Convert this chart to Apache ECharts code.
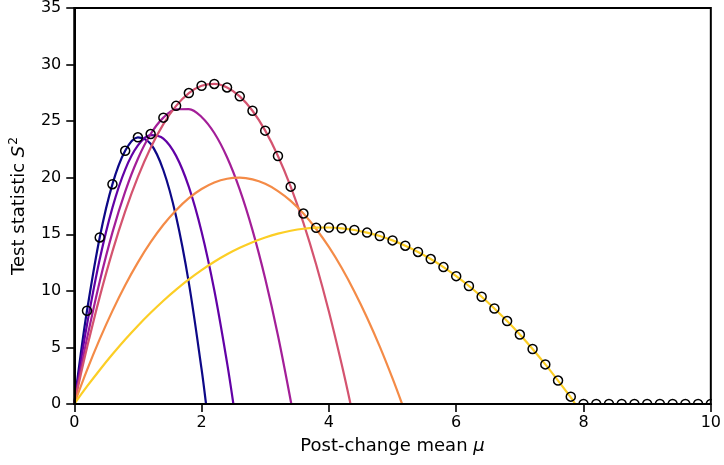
<!DOCTYPE html>
<html>
<head>
<meta charset="utf-8">
<script src="https://cdn.jsdelivr.net/npm/echarts@6/dist/echarts.min.js"></script>
<style>
html,body{margin:0;padding:0;background:#fff;}
#chart{width:724px;height:465px;}
</style>
</head>
<body>
<div id="chart"></div>
<script>
// ---- data ----
const xTicks = [0, 2, 4, 6, 8, 10];
const yTicks = [0, 5, 10, 15, 20, 25, 30, 35];

const curveNavy = [[0,0],[0.1,4.34],[0.2,8.24],[0.4,14.72],[0.6,19.43],[0.8,22.38],[1.0,23.57],[1.2,23.0],[1.4,20.66],[1.6,16.57],[1.8,10.71],[2.0,3.08],[2.07,0]];
const curvePurple = [[0,0],[0.1,3.66],[0.2,7.01],[0.4,12.79],[0.6,17.36],[0.8,20.72],[1.0,22.85],[1.2,23.76],[1.4,23.46],[1.6,21.93],[1.8,19.19],[2.0,15.23],[2.2,10.05],[2.4,3.66],[2.5,0]];
const curveMagenta = [[0,0],[0.1,2.98],[0.2,5.78],[0.4,10.83],[0.6,15.17],[0.8,18.78],[1.0,21.68],[1.2,23.86],[1.4,25.31],[1.6,26.05],[1.8,26.07],[2.0,25.37],[2.2,23.95],[2.4,21.81],[2.6,18.95],[2.8,15.37],[3.0,11.07],[3.2,6.05],[3.41,0]];
const curvePink = [[0,0],[0.1,2.55],[0.2,4.98],[0.4,9.47],[0.6,13.49],[0.8,17.02],[1.0,20.07],[1.2,22.65],[1.4,24.74],[1.6,26.35],[1.8,27.48],[2.0,28.13],[2.2,28.29],[2.4,27.98],[2.6,27.19],[2.8,25.92],[3.0,24.16],[3.2,21.92],[3.4,19.21],[3.6,16.01],[3.8,12.33],[4.0,8.17],[4.2,3.53],[4.34,0]];
const curveOrange = [[0,0],[0.2,2.99],[0.4,5.73],[0.6,8.23],[0.8,10.50],[1.0,12.52],[1.2,14.30],[1.4,15.84],[1.6,17.13],[1.8,18.19],[2.0,19.00],[2.2,19.58],[2.4,19.91],[2.6,20.00],[2.8,19.85],[3.0,19.46],[3.2,18.82],[3.4,17.95],[3.6,16.83],[3.8,15.47],[4.0,13.88],[4.2,12.04],[4.4,9.95],[4.6,7.63],[4.8,5.07],[5.0,2.26],[5.15,0]];
const curveYellow = [[0,0],[0.2,1.55],[0.4,3.01],[0.6,4.39],[0.8,5.70],[1.0,6.92],[1.2,8.06],[1.4,9.13],[1.6,10.11],[1.8,11.01],[2.0,11.83],[2.2,12.57],[2.4,13.23],[2.6,13.80],[2.8,14.30],[3.0,14.72],[3.2,15.06],[3.4,15.31],[3.6,15.49],[3.8,15.58],[4.0,15.60],[4.2,15.53],[4.4,15.38],[4.6,15.15],[4.8,14.85],[5.0,14.46],[5.2,13.99],[5.4,13.44],[5.6,12.81],[5.8,12.10],[6.0,11.30],[6.2,10.43],[6.4,9.48],[6.6,8.44],[6.8,7.33],[7.0,6.14],[7.2,4.86],[7.4,3.50],[7.6,2.07],[7.8,0.58],[7.87,0]];

const markX = [0.2,0.4,0.6,0.8,1.0,1.2,1.4,1.6,1.8,2.0,2.2,2.4,2.6,2.8,3.0,3.2,3.4,3.6,3.8,4.0,4.2,4.4,4.6,4.8,5.0,5.2,5.4,5.6,5.8,6.0,6.2,6.4,6.6,6.8,7.0,7.2,7.4,7.6,7.8,8.0,8.2,8.4,8.6,8.8,9.0,9.2,9.4,9.6,9.8,10.0];
const markY = [8.24,14.72,19.43,22.38,23.57,23.86,25.31,26.35,27.48,28.13,28.29,27.98,27.19,25.92,24.16,21.92,19.21,16.83,15.58,15.60,15.53,15.38,15.15,14.85,14.46,13.99,13.44,12.81,12.10,11.30,10.43,9.48,8.44,7.33,6.14,4.86,3.50,2.07,0.65,0,0,0,0,0,0,0,0,0,0,0];

const curveList = [curveNavy, curvePurple, curveMagenta, curvePink, curveOrange, curveYellow];
const curveColors = ['#0d0887', '#6201a6', '#a31e98', '#d4536f', '#f48b47', '#fcce25'];

// ---- chart ----
const FONT = 'DejaVu Sans';
const chart = echarts.init(document.getElementById('chart'), null, {renderer: 'canvas'});

const series = [];
curveList.forEach((c, i) => {
  series.push({
    type: 'line', data: c, smooth: 0.35, showSymbol: false, symbol: 'none',
    lineStyle: {color: curveColors[i], width: 2.2}, z: 2, silent: true
  });
});
curveList.forEach((c, i) => {
  const root = c[c.length - 1][0];
  series.push({
    type: 'line', data: [[root, 0], [10, 0]], showSymbol: false, symbol: 'none',
    lineStyle: {color: curveColors[i], width: 2.2}, z: 2, silent: true
  });
});
series.push({
  type: 'scatter', data: markX.map((x, i) => [x, markY[i]]),
  symbol: 'circle', symbolSize: 9,
  itemStyle: {color: 'rgba(0,0,0,0)', borderColor: '#000', borderWidth: 1.5, opacity: 1},
  z: 4, clip: false, silent: true
});
// white mask outside the plotting area on an upper layer (marks are clipped at the frame, like the reference)
series.push({
  type: 'custom', zlevel: 1, z: 0, silent: true, clip: false, data: [[0, 0]],
  renderItem: function (params, api) {
    const cs = params.coordSys;
    return {
      type: 'group',
      children: [
        {type: 'rect', shape: {x: 0, y: cs.y + cs.height + 1, width: 724, height: 80}, style: {fill: '#fff'}},
        {type: 'rect', shape: {x: cs.x + cs.width + 1, y: 0, width: 40, height: 465}, style: {fill: '#fff'}}
      ]
    };
  }
});

chart.setOption({
  animation: false,
  backgroundColor: '#fff',
  grid: {left: 70, right: 12, top: 6, bottom: 61, show: true, borderColor: '#000', borderWidth: 2, backgroundColor: 'transparent', zlevel: 2},
  xAxis: {
    type: 'value', min: xTicks[0], max: xTicks[xTicks.length - 1], interval: 2, zlevel: 2,
    axisLine: {show: true, onZero: false, lineStyle: {color: '#000', width: 2}},
    axisTick: {show: true, inside: false, length: 8, lineStyle: {color: '#000', width: 1.6}},
    axisLabel: {color: '#000', fontSize: 16, fontFamily: FONT, margin: 11},
    splitLine: {show: false},
    name: 'Post-change mean {it|μ}', nameLocation: 'middle', nameGap: 33,
    nameTextStyle: {color: '#000', fontSize: 18, fontFamily: FONT,
      rich: {it: {fontStyle: 'italic', fontSize: 18, fontFamily: FONT, color: '#000'}}}
  },
  yAxis: {
    type: 'value', min: yTicks[0], max: yTicks[yTicks.length - 1], interval: 5, zlevel: 2,
    axisLine: {show: true, onZero: false, lineStyle: {color: '#000', width: 2}},
    axisTick: {show: true, inside: false, length: 8, lineStyle: {color: '#000', width: 1.6}},
    axisLabel: {color: '#000', fontSize: 16, fontFamily: FONT, margin: 13},
    splitLine: {show: false},
    name: 'Test statistic {it|S}{sup|2}', nameLocation: 'middle', nameGap: 41, nameRotate: 90,
    nameTextStyle: {color: '#000', fontSize: 18, fontFamily: FONT, lineHeight: 22,
      rich: {
        it: {fontStyle: 'italic', fontSize: 18, fontFamily: FONT, color: '#000', lineHeight: 22},
        sup: {fontSize: 12, fontFamily: FONT, color: '#000', verticalAlign: 'top', lineHeight: 22, padding: [0, 0, 8, 1]}
      }}
  },
  series: series
});
</script>
</body>
</html>
